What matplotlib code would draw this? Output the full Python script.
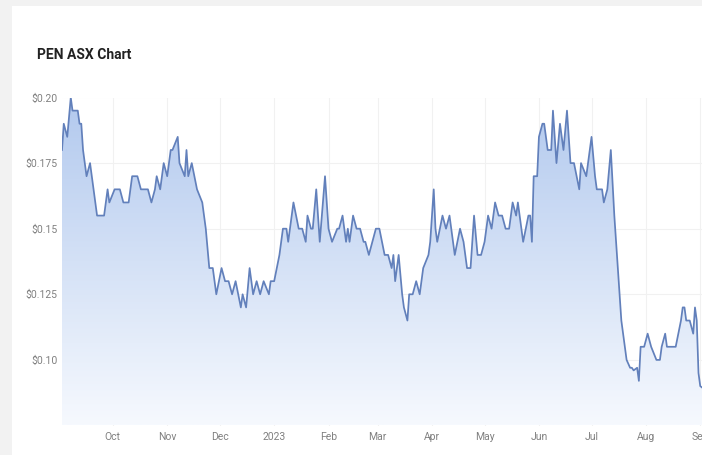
import numpy as np
import pandas as pd
import matplotlib.pyplot as plt
import matplotlib.dates as mdates
from matplotlib.colors import LinearSegmentedColormap
from matplotlib.patches import Rectangle

plt.rcParams['font.family'] = ['Roboto', 'DejaVu Sans']

# PEN closing prices (Sep 2022 - Sep 2023)
dates = [
    '2022-09-02', '2022-09-03', '2022-09-05', '2022-09-07', '2022-09-08', '2022-09-11',
    '2022-09-12', '2022-09-13', '2022-09-14', '2022-09-16', '2022-09-18', '2022-09-19',
    '2022-09-22', '2022-09-25', '2022-09-26', '2022-09-28', '2022-09-29', '2022-10-02',
    '2022-10-05', '2022-10-07', '2022-10-10', '2022-10-12', '2022-10-15', '2022-10-17',
    '2022-10-21', '2022-10-23', '2022-10-25', '2022-10-26', '2022-10-28', '2022-10-30',
    '2022-11-01', '2022-11-03', '2022-11-04', '2022-11-07', '2022-11-08', '2022-11-11',
    '2022-11-12', '2022-11-13', '2022-11-15', '2022-11-18', '2022-11-21', '2022-11-23',
    '2022-11-25', '2022-11-27', '2022-11-29', '2022-12-02', '2022-12-04', '2022-12-06',
    '2022-12-08', '2022-12-10', '2022-12-13', '2022-12-14', '2022-12-16', '2022-12-18',
    '2022-12-20', '2022-12-22', '2022-12-24', '2022-12-26', '2022-12-29', '2022-12-30',
    '2023-01-01', '2023-01-04', '2023-01-06', '2023-01-08', '2023-01-09', '2023-01-12',
    '2023-01-15', '2023-01-17', '2023-01-19', '2023-01-20', '2023-01-22', '2023-01-23',
    '2023-01-25', '2023-01-27', '2023-01-30', '2023-02-01', '2023-02-03', '2023-02-06',
    '2023-02-07', '2023-02-09', '2023-02-11', '2023-02-12', '2023-02-13', '2023-02-15',
    '2023-02-17', '2023-02-19', '2023-02-21', '2023-02-22', '2023-02-24', '2023-02-26',
    '2023-02-28', '2023-03-02', '2023-03-05', '2023-03-07', '2023-03-09', '2023-03-10',
    '2023-03-11', '2023-03-13', '2023-03-15', '2023-03-16', '2023-03-18', '2023-03-19',
    '2023-03-21', '2023-03-23', '2023-03-25', '2023-03-27', '2023-03-30', '2023-03-31',
    '2023-04-02', '2023-04-03', '2023-04-04', '2023-04-07', '2023-04-09', '2023-04-11',
    '2023-04-14', '2023-04-17', '2023-04-19', '2023-04-21', '2023-04-23', '2023-04-25',
    '2023-04-27', '2023-04-29', '2023-05-01', '2023-05-03', '2023-05-05', '2023-05-07',
    '2023-05-09', '2023-05-11', '2023-05-13', '2023-05-15', '2023-05-17', '2023-05-19',
    '2023-05-20', '2023-05-22', '2023-05-23', '2023-05-26', '2023-05-27', '2023-05-28',
    '2023-05-29', '2023-05-31', '2023-06-01', '2023-06-03', '2023-06-04', '2023-06-06',
    '2023-06-08', '2023-06-09', '2023-06-11', '2023-06-13', '2023-06-15', '2023-06-17',
    '2023-06-19', '2023-06-21', '2023-06-24', '2023-06-25', '2023-06-28', '2023-07-01',
    '2023-07-03', '2023-07-04', '2023-07-07', '2023-07-08', '2023-07-10', '2023-07-12',
    '2023-07-14', '2023-07-16', '2023-07-18', '2023-07-21', '2023-07-23', '2023-07-24',
    '2023-07-25', '2023-07-27', '2023-07-28', '2023-07-29', '2023-07-31', '2023-08-02',
    '2023-08-04', '2023-08-07', '2023-08-09', '2023-08-10', '2023-08-12', '2023-08-13',
    '2023-08-16', '2023-08-18', '2023-08-21', '2023-08-22', '2023-08-23', '2023-08-24',
    '2023-08-26', '2023-08-28', '2023-08-29', '2023-08-30', '2023-08-31', '2023-09-01',
    '2023-09-03',
]
prices = [
    0.180, 0.190, 0.185, 0.200, 0.195, 0.195,
    0.190, 0.190, 0.180, 0.170, 0.175, 0.170,
    0.155, 0.155, 0.155, 0.165, 0.160, 0.165,
    0.165, 0.160, 0.160, 0.170, 0.170, 0.165,
    0.165, 0.160, 0.165, 0.170, 0.165, 0.175,
    0.170, 0.180, 0.180, 0.185, 0.175, 0.170,
    0.180, 0.170, 0.175, 0.165, 0.160, 0.150,
    0.135, 0.135, 0.125, 0.135, 0.130, 0.130,
    0.125, 0.130, 0.120, 0.125, 0.120, 0.135,
    0.125, 0.130, 0.125, 0.130, 0.125, 0.130,
    0.130, 0.140, 0.150, 0.150, 0.145, 0.160,
    0.150, 0.150, 0.145, 0.155, 0.150, 0.150,
    0.165, 0.145, 0.170, 0.150, 0.145, 0.150,
    0.150, 0.155, 0.145, 0.150, 0.145, 0.155,
    0.150, 0.150, 0.145, 0.145, 0.140, 0.145,
    0.150, 0.150, 0.140, 0.140, 0.135, 0.140,
    0.130, 0.140, 0.125, 0.120, 0.115, 0.125,
    0.125, 0.130, 0.125, 0.135, 0.140, 0.145,
    0.165, 0.150, 0.145, 0.155, 0.150, 0.155,
    0.140, 0.150, 0.145, 0.135, 0.135, 0.155,
    0.140, 0.140, 0.145, 0.155, 0.150, 0.160,
    0.155, 0.155, 0.150, 0.150, 0.160, 0.155,
    0.160, 0.150, 0.145, 0.155, 0.155, 0.145,
    0.170, 0.170, 0.185, 0.190, 0.190, 0.180,
    0.180, 0.195, 0.175, 0.190, 0.180, 0.195,
    0.175, 0.175, 0.165, 0.175, 0.170, 0.185,
    0.170, 0.165, 0.165, 0.160, 0.165, 0.180,
    0.155, 0.135, 0.115, 0.100, 0.097, 0.097,
    0.096, 0.097, 0.092, 0.105, 0.105, 0.110,
    0.105, 0.100, 0.100, 0.105, 0.110, 0.105,
    0.105, 0.105, 0.115, 0.120, 0.120, 0.115,
    0.115, 0.110, 0.120, 0.115, 0.095, 0.090,
    0.089,
]

ytick_vals = [0.10, 0.125, 0.15, 0.175, 0.20]
ytick_labels = ['$0.10', '$0.125', '$0.15', '$0.175', '$0.20']
month_ticks = pd.date_range('2022-10-01', '2023-09-01', freq='MS')
month_labels = ['Oct', 'Nov', 'Dec', '2023', 'Feb', 'Mar', 'Apr', 'May',
                'Jun', 'Jul', 'Aug', 'Sep']

x = pd.to_datetime(dates)
y = np.array(prices)

fig = plt.figure(figsize=(7.02, 4.55), dpi=100)
fig.patch.set_facecolor('#f2f2f2')
# white card behind the chart
card = Rectangle((12/702, 0), 1, 449/455, transform=fig.transFigure,
                 facecolor='white', edgecolor='none', zorder=-10)
fig.add_artist(card)

ax = fig.add_axes([62/702, 29.5/455, 640/702, 328/455])
ax.set_facecolor('none')
ax.set_zorder(5)

xmin = pd.Timestamp('2022-09-02')
xmax = pd.Timestamp('2023-09-02')
ymin, ymax = 0.075, 0.20

# gradient area under the line
poly = ax.fill_between(x, y, ymin, color='none', lw=0)
cmap = LinearSegmentedColormap.from_list('g', ['#f6f9fe', '#b2c9ee'])
grad = np.linspace(0, 1, 256).reshape(-1, 1)
im = ax.imshow(grad, cmap=cmap, aspect='auto', origin='lower',
               extent=[mdates.date2num(xmin), mdates.date2num(xmax), ymin, ymax],
               zorder=1)
im.set_clip_path(poly.get_paths()[0], transform=ax.transData)

ax.plot(x, y, color='#6280bb', lw=1.25, zorder=3)

ax.set_xlim(xmin, xmax)
ax.set_ylim(ymin, ymax)

ax.set_yticks(ytick_vals)
ax.set_yticklabels(ytick_labels)
ax.set_xticks(month_ticks)
ax.set_xticklabels(month_labels)
ax.tick_params(length=0, labelsize=7.5, labelcolor='#808080')
ax.tick_params(axis='y', pad=3)
ax.tick_params(axis='x', pad=5)

ax.grid(True, color='#f1f1f1', lw=0.8, zorder=0)
ax.set_axisbelow(True)
for s in ax.spines.values():
    s.set_visible(False)

fig.text(37/702, 1 - 55/455, 'PEN ASX Chart', fontsize=10, fontweight='bold',
         color='#222222', va='center', ha='left')

fig.savefig('out.png', dpi=100)
